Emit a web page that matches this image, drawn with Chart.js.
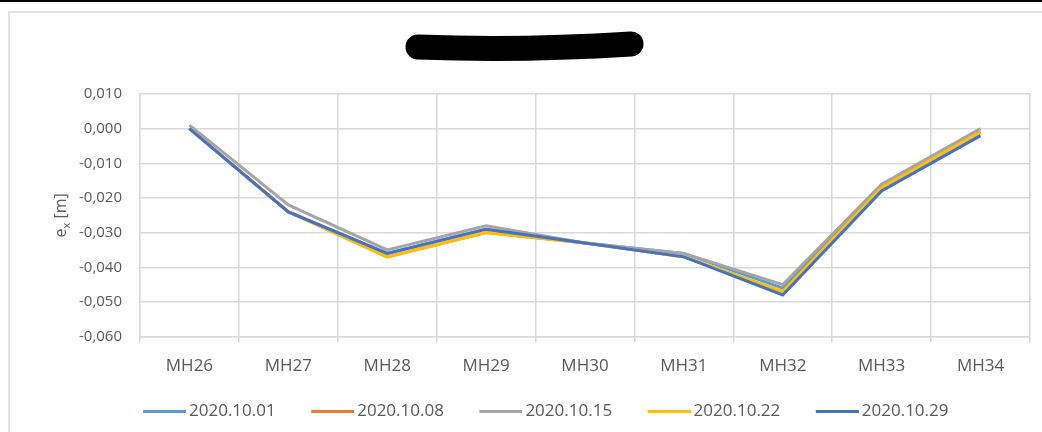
<!DOCTYPE html>
<html>
<head>
<meta charset="utf-8">
<script src="https://cdn.jsdelivr.net/npm/chart.js@4/dist/chart.umd.min.js"></script>
<style>
  html, body { margin: 0; padding: 0; background: #fff; }
  #wrap { width: 1042px; height: 432px; position: relative; }
</style>
</head>
<body>
<div id="wrap"><canvas id="chart"></canvas></div>
<script>
// Measuring points and campaign dates
const points = ['MH26', 'MH27', 'MH28', 'MH29', 'MH30', 'MH31', 'MH32', 'MH33', 'MH34'];
const dates = ['2020.10.01', '2020.10.08', '2020.10.15', '2020.10.22', '2020.10.29'];

// e_x in metres, one array per campaign
const ex_1001 = [0.000, -0.024, -0.036, -0.029, -0.033, -0.036, -0.046, -0.017, -0.001];
const ex_1008 = [0.000, -0.024, -0.037, -0.030, -0.033, -0.037, -0.047, -0.017, -0.001];
const ex_1015 = [0.001, -0.022, -0.035, -0.028, -0.033, -0.036, -0.045, -0.016, 0.000];
const ex_1022 = [0.000, -0.024, -0.037, -0.030, -0.033, -0.037, -0.047, -0.017, -0.001];
const ex_1029 = [0.000, -0.024, -0.036, -0.029, -0.033, -0.037, -0.048, -0.018, -0.002];

const yTicks = { min: -0.06, max: 0.01, step: 0.01 };
const colors = ['#5B9BD5', '#ED7D31', '#A5A5A5', '#FFC000', '#4472C4'];
const series = [ex_1001, ex_1008, ex_1015, ex_1022, ex_1029];

const textColor = '#595959';
const gridColor = '#d9d9d9';
const fontFamily = "'Open Sans', 'Liberation Sans', sans-serif";

// legend swatch: short line at the right end of a wider transparent box,
// so the items get more room between them than the vertical padding;
// the image is a bit wider than the box so the line sits close to the text
const SWATCH_BOX = 59;
const SWATCH_IMG = 70;
const SWATCH_LINE = 43;
function swatch(color) {
  const c = document.createElement('canvas');
  c.width = SWATCH_IMG;
  c.height = 3;
  const g = c.getContext('2d');
  g.fillStyle = color;
  g.fillRect(SWATCH_IMG - SWATCH_LINE, 0, SWATCH_LINE, 3);
  return c;
}

// frame, top rule, blacked-out title and the y axis title with subscript
const decor = {
  id: 'decor',
  beforeDraw(chart) {
    const ctx = chart.ctx;
    ctx.save();
    ctx.fillStyle = '#fff';
    ctx.fillRect(0, 0, chart.width, chart.height);
    ctx.fillStyle = '#000';
    ctx.fillRect(0, 0, chart.width, 2);
    ctx.strokeStyle = '#e3e3e3';
    ctx.lineWidth = 2;
    ctx.beginPath();
    ctx.moveTo(9, chart.height);
    ctx.lineTo(9, 12);
    ctx.lineTo(chart.width, 12);
    ctx.stroke();
    ctx.restore();
  },
  afterDraw(chart) {
    const ctx = chart.ctx;
    ctx.save();
    // title blacked out
    ctx.strokeStyle = '#000';
    ctx.lineWidth = 25;
    ctx.lineCap = 'round';
    ctx.beginPath();
    ctx.moveTo(418, 47);
    ctx.quadraticCurveTo(520, 51, 631, 44);
    ctx.stroke();

    // y axis title: e_x [m]
    const cy = (chart.chartArea.top + chart.chartArea.bottom) / 2;
    ctx.translate(66, cy);
    ctx.rotate(-Math.PI / 2);
    ctx.fillStyle = textColor;
    ctx.textBaseline = 'alphabetic';
    ctx.font = '16px ' + fontFamily;
    const wE = ctx.measureText('e').width;
    ctx.font = '11px ' + fontFamily;
    const wX = ctx.measureText('x').width;
    ctx.font = '16px ' + fontFamily;
    const wM = ctx.measureText(' [m]').width;
    let x = -(wE + wX + wM) / 2;
    ctx.fillText('e', x, 0);
    x += wE;
    ctx.font = '11px ' + fontFamily;
    ctx.fillText('x', x, 4);
    x += wX;
    ctx.font = '16px ' + fontFamily;
    ctx.fillText(' [m]', x, 0);
    ctx.restore();
  }
};

const ctx = document.getElementById('chart').getContext('2d');
new Chart(ctx, {
  type: 'line',
  data: {
    labels: points,
    datasets: dates.map((d, i) => ({
      label: d,
      data: series[i],
      borderColor: colors[i],
      backgroundColor: colors[i],
      borderWidth: 3,
      pointRadius: 0,
      tension: 0,
      // later campaigns drawn on top
      order: dates.length - i
    }))
  },
  options: {
    responsive: true,
    maintainAspectRatio: false,
    animation: false,
    layout: { padding: { top: 94, left: 40, right: 12, bottom: 2 } },
    plugins: {
      title: { display: false },
      tooltip: { enabled: false },
      legend: {
        position: 'bottom',
        labels: {
          color: textColor,
          font: { family: fontFamily, size: 17 },
          usePointStyle: true,
          pointStyleWidth: SWATCH_BOX,
          padding: 14,
          sort: (a, b) => a.datasetIndex - b.datasetIndex,
          generateLabels(chart) {
            return chart.data.datasets.map((ds, i) => ({
              text: ds.label,
              pointStyle: swatch(ds.borderColor),
              rotation: 0,
              fillStyle: ds.borderColor,
              strokeStyle: ds.borderColor,
              lineWidth: 0,
              fontColor: textColor,
              hidden: false,
              datasetIndex: i
            }));
          }
        }
      }
    },
    scales: {
      x: {
        offset: true,
        grid: {
          offset: true,
          color: gridColor,
          lineWidth: 1.5,
          tickLength: 6,
          drawTicks: true
        },
        border: { color: gridColor, width: 1.5 },
        ticks: {
          color: textColor,
          font: { family: fontFamily, size: 17 },
          padding: 13,
          maxRotation: 0
        }
      },
      y: {
        min: yTicks.min,
        max: yTicks.max,
        afterFit(scale) { scale.width = 100; },
        grid: { color: gridColor, lineWidth: 1.5, drawTicks: false },
        border: { color: gridColor, width: 1.5 },
        ticks: {
          stepSize: yTicks.step,
          color: textColor,
          font: { family: fontFamily, size: 15 },
          padding: 18,
          callback: v => v.toFixed(3).replace('.', ',').replace(/^-0,000$/, '0,000')
        }
      }
    }
  },
  plugins: [decor]
});
</script>
</body>
</html>
